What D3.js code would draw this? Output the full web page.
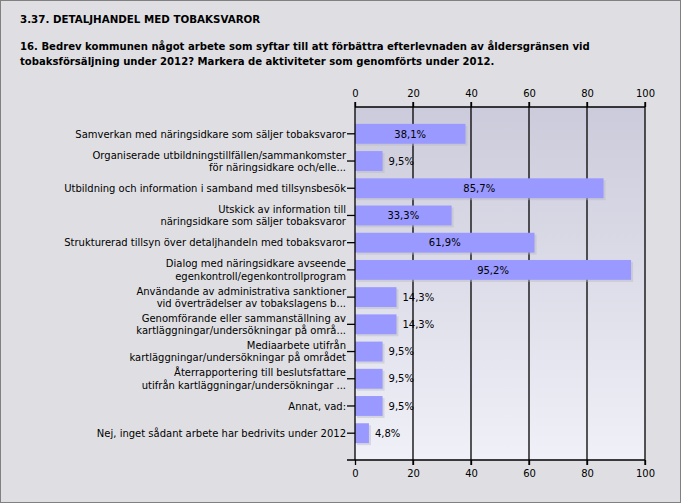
<!DOCTYPE html>
<html><head><meta charset="utf-8">
<script src="https://cdn.jsdelivr.net/npm/d3@7"></script>
<style>
body{margin:0;padding:0;background:#fff;}
svg{display:block;}
text{font-family:"DejaVu Sans",Verdana,sans-serif;}
</style></head>
<body>
<script>
const titleText = "3.37. DETALJHANDEL MED TOBAKSVAROR";
const questionLines = [
  "16. Bedrev kommunen något arbete som syftar till att förbättra efterlevnaden av åldersgränsen vid",
  "tobaksförsäljning under 2012? Markera de aktiviteter som genomförts under 2012."
];
const categories = [
  ["Samverkan med näringsidkare som säljer tobaksvaror"],
  ["Organiserade utbildningstillfällen/sammankomster", "för näringsidkare och/elle..."],
  ["Utbildning och information i samband med tillsynsbesök"],
  ["Utskick av information till", "näringsidkare som säljer tobaksvaror"],
  ["Strukturerad tillsyn över detaljhandeln med tobaksvaror"],
  ["Dialog med näringsidkare avseende", "egenkontroll/egenkontrollprogram"],
  ["Användande av administrativa sanktioner", "vid överträdelser av tobakslagens b..."],
  ["Genomförande eller sammanställning av", "kartläggningar/undersökningar på områ..."],
  ["Mediaarbete utifrån", "kartläggningar/undersökningar på området"],
  ["Återrapportering till beslutsfattare", "utifrån kartläggningar/undersökningar ..."],
  ["Annat, vad:"],
  ["Nej, inget sådant arbete har bedrivits under 2012"]
];
const values = [38.1, 9.5, 85.7, 33.3, 61.9, 95.2, 14.3, 14.3, 9.5, 9.5, 9.5, 4.8];
const valueLabels = ["38,1%","9,5%","85,7%","33,3%","61,9%","95,2%","14,3%","14,3%","9,5%","9,5%","9,5%","4,8%"];
const tickValues = [0, 20, 40, 60, 80, 100];

const W = 681, H = 503;
const FS = "10px";
const svg = d3.select("body").append("svg").attr("width", W).attr("height", H);

const defs = svg.append("defs");
const grad = defs.append("linearGradient").attr("id","bg").attr("x1",0).attr("y1",0).attr("x2",0).attr("y2",1);
grad.append("stop").attr("offset","0%").attr("stop-color","#cbcbdb");
grad.append("stop").attr("offset","100%").attr("stop-color","#f0f0f8");

svg.append("rect").attr("x",0.5).attr("y",0.5).attr("width",W-1).attr("height",H-1)
  .attr("fill","#dfdfe3").attr("stroke","#808080");

svg.append("text").attr("x",20).attr("y",23).attr("font-size","10.3px").attr("font-weight","bold")
  .attr("fill","#000").text(titleText);
questionLines.forEach((l,i)=>{
  svg.append("text").attr("x",20).attr("y",50+i*15).attr("font-size","10.1px").attr("font-weight","bold")
    .attr("fill","#000").text(l);
});

const pLeft = 355, pRight = 645, pTop = 107, pBottom = 460;
const x = d3.scaleLinear().domain([0,100]).range([pLeft,pRight]);
const y = d3.scaleBand().domain(d3.range(categories.length)).range([pTop,pBottom])
  .paddingInner(0.27).paddingOuter(0.62);

svg.append("rect").attr("x",pLeft).attr("y",pTop).attr("width",pRight-pLeft).attr("height",pBottom-pTop)
  .attr("fill","url(#bg)");

// gridlines
const g = svg.append("g");
g.selectAll("line.grid").data(tickValues.slice(1)).enter().append("line")
  .attr("x1",d=>x(d)).attr("x2",d=>x(d)).attr("y1",pTop-5).attr("y2",pBottom+5)
  .attr("stroke","#000").attr("stroke-width",1.3);

// axes
const topAxis = d3.axisTop(x).tickValues(tickValues).tickSize(5).tickFormat(d3.format("d"));
const botAxis = d3.axisBottom(x).tickValues(tickValues).tickSize(5).tickFormat(d3.format("d"));
const ta = svg.append("g").attr("transform",`translate(0,${pTop})`).call(topAxis);
const ba = svg.append("g").attr("transform",`translate(0,${pBottom})`).call(botAxis);
[ta,ba].forEach(a=>{
  a.select(".domain").attr("stroke","#000").attr("stroke-width",1.3).attr("d",`M${pLeft},0H${pRight}`);
  a.selectAll(".tick line").attr("stroke","#000").attr("stroke-width",1.3);
  a.selectAll(".tick text").attr("font-size",FS).attr("fill","#000").attr("font-family","DejaVu Sans, Verdana, sans-serif");
});
ta.selectAll(".tick text").attr("dy","-0.2em");
ba.selectAll(".tick text").attr("dy","0.85em");

// bars
const bars = svg.append("g");
bars.selectAll("rect.shadow").data(values).enter().append("rect")
  .attr("x",pLeft+2).attr("y",(d,i)=>y(i)+2).attr("width",d=>x(d)-pLeft).attr("height",y.bandwidth())
  .attr("fill","#b8b8c4").attr("opacity",0.45);
bars.selectAll("rect.bar").data(values).enter().append("rect")
  .attr("x",pLeft).attr("y",(d,i)=>y(i)).attr("width",d=>x(d)-pLeft).attr("height",y.bandwidth())
  .attr("fill","#9999ff");

// left axis
const leftAxis = d3.axisLeft(y).tickSize(8).tickFormat("");
const la = svg.append("g").attr("transform",`translate(${pLeft},0)`).call(leftAxis);
la.select(".domain").attr("stroke","#000").attr("stroke-width",1.3).attr("d",`M0,${pTop-5}V${pBottom}H-8`);
la.selectAll(".tick line").attr("stroke","#000").attr("stroke-width",1.3);

// category labels
const lh = 12.3;
categories.forEach((lines,i)=>{
  const cy = y(i) + y.bandwidth()/2;
  const t = svg.append("text").attr("text-anchor","end").attr("font-size",FS).attr("fill","#000");
  const n = lines.length;
  lines.forEach((l,j)=>{
    t.append("tspan").attr("x",pLeft-9).attr("y",cy + (j-(n-1)/2)*lh + 3.7).text(l);
  });
});

// value labels
values.forEach((v,i)=>{
  const cy = y(i) + y.bandwidth()/2 + 3.7;
  const w = x(v)-pLeft;
  const inside = w > 50;
  svg.append("text").attr("font-size",FS).attr("fill","#000")
    .attr("text-anchor", inside ? "middle" : "start")
    .attr("x", inside ? pLeft + w/2 : x(v)+6)
    .attr("y", cy).text(valueLabels[i]);
});
</script>
</body></html>
